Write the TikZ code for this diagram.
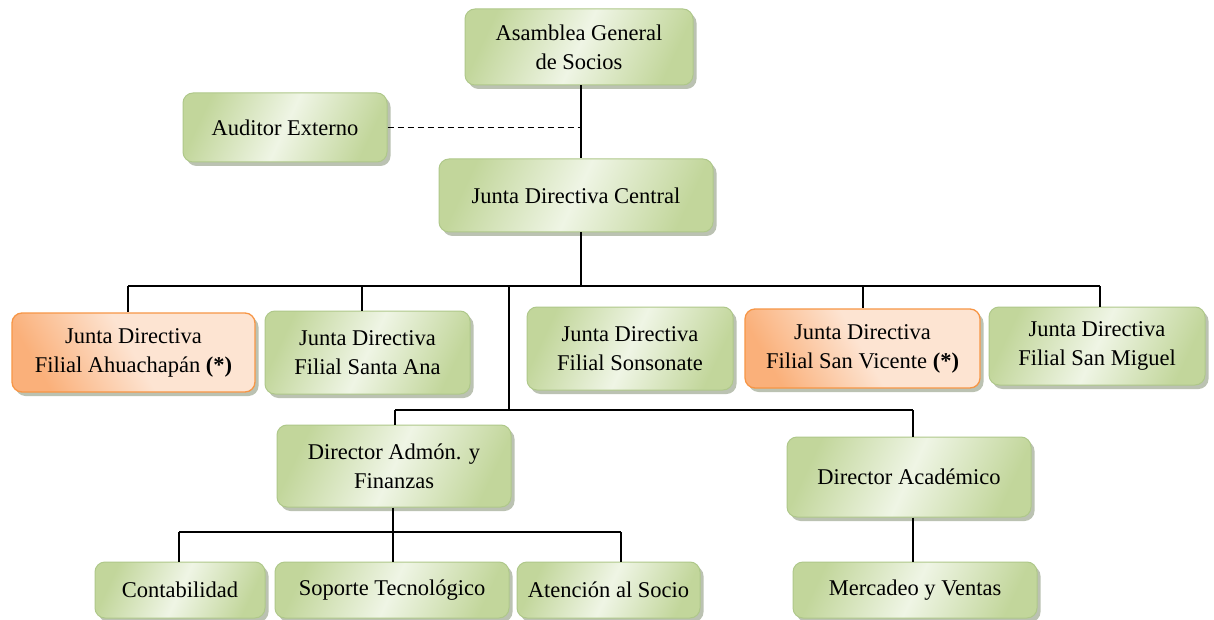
\documentclass[tikz,border=0pt]{standalone}
\usepackage{fontspec}
\setmainfont{Liberation Serif}
\usetikzlibrary{shadows}
\definecolor{gEdge}{HTML}{C2D69B}
\definecolor{gMid}{HTML}{EFF5E5}
\definecolor{gLine}{HTML}{AFC88A}
\definecolor{oEdge}{HTML}{FAB07A}
\definecolor{oMid}{HTML}{FDE4D2}
\definecolor{oLine}{HTML}{F79646}
\definecolor{shd}{HTML}{8E9A80}
\tikzset{
  box/.style={rounded corners=10pt, inner sep=0pt, align=center,
    font=\fontsize{22.5}{29}\selectfont,
    drop shadow={shadow xshift=3.5pt, shadow yshift=-4pt, fill=shd, opacity=.6}},
  gbox/.style={box, draw=gLine, line width=1pt,
    left color=gEdge, right color=gEdge, middle color=gMid, shading angle=65},
  obox/.style={box, draw=oLine, line width=1.3pt,
    left color=oEdge, right color=oMid, middle color=oMid, shading angle=120},
  conn/.style={line width=1.3pt, black},
}
\begin{document}
\begin{tikzpicture}[x=1pt, y=-1pt]
\useasboundingbox (0,0) rectangle (1214,620);
\fill[white] (0,0) rectangle (1214,620);

\node[gbox, minimum width=228pt, minimum height=76pt] (asam) at (579,47) {Asamblea General\\de Socios};
\node[gbox, minimum width=204pt, minimum height=69pt] (aud) at (285,127.5) {Auditor Externo};
\node[gbox, minimum width=274pt, minimum height=73pt] (jdc) at (576,195.5) {Junta Directiva Central};

\node[obox, minimum width=243pt, minimum height=79pt] (ahua) at (133.5,352.5) {Junta Directiva\\Filial Ahuachapán \textbf{(*)}};
\node[gbox, minimum width=205pt, minimum height=83pt] (sana) at (367.5,352.5) {Junta Directiva\\Filial Santa Ana};
\node[gbox, minimum width=206pt, minimum height=83pt] (sons) at (630,348.5) {Junta Directiva\\Filial Sonsonate};
\node[obox, minimum width=235pt, minimum height=79pt] (svic) at (862.5,348.5) {Junta Directiva\\Filial San Vicente \textbf{(*)}};
\node[gbox, minimum width=216pt, minimum height=78pt] (smig) at (1097,346) {Junta Directiva\\Filial San Miguel};

\node[gbox, minimum width=234pt, minimum height=82pt] (dadm) at (394,466) {Director Admón. y\\Finanzas};
\node[gbox, minimum width=244pt, minimum height=80pt] (daca) at (909,477) {Director Académico};

\node[gbox, minimum width=170pt, minimum height=56pt] (cont) at (180,590) {Contabilidad};
\node[gbox, minimum width=234pt, minimum height=56pt] (sop) at (392,590) {Soporte Tecnológico};
\node[gbox, minimum width=183pt, minimum height=56pt] (aten) at (608.5,590) {Atención al Socio};
\node[gbox, minimum width=244pt, minimum height=56pt] (merc) at (915,590) {Mercadeo y Ventas};

% junction points
\coordinate (t1) at (581,286);
\coordinate (hL) at (128,286);
\coordinate (hR) at (1100,286);
\coordinate (sSA) at (362,286);
\coordinate (sSV) at (863,286);
\coordinate (v2) at (509,286);
\coordinate (m2) at (509,410);
\coordinate (dL) at (395,410);
\coordinate (dR) at (913,410);
\coordinate (b3) at (393,532);
\coordinate (bL) at (179,532);
\coordinate (bR) at (621,532);

\draw[conn] (asam.south -| t1) -- (jdc.north -| t1);
\draw[conn, dashed, dash pattern=on 6pt off 4pt, line width=1.1pt] (aud.east) -- (aud.east -| t1);
\draw[conn] (jdc.south -| t1) -- (t1);
\draw[conn] (hL) -- (hR);
\draw[conn] (hL) -- (hL |- ahua.north);
\draw[conn] (sSA) -- (sSA |- sana.north);
\draw[conn] (sSV) -- (sSV |- svic.north);
\draw[conn] (hR) -- (hR |- smig.north);
\draw[conn] (v2) -- (m2);
\draw[conn] (dL) -- (dR);
\draw[conn] (dL) -- (dL |- dadm.north);
\draw[conn] (dR) -- (dR |- daca.north);
\draw[conn] (dadm.south -| b3) -- (b3);
\draw[conn] (bL) -- (bR);
\draw[conn] (bL) -- (bL |- cont.north);
\draw[conn] (b3) -- (b3 |- sop.north);
\draw[conn] (bR) -- (bR |- aten.north);
\draw[conn] (daca.south -| dR) -- (dR |- merc.north);
\end{tikzpicture}
\end{document}
